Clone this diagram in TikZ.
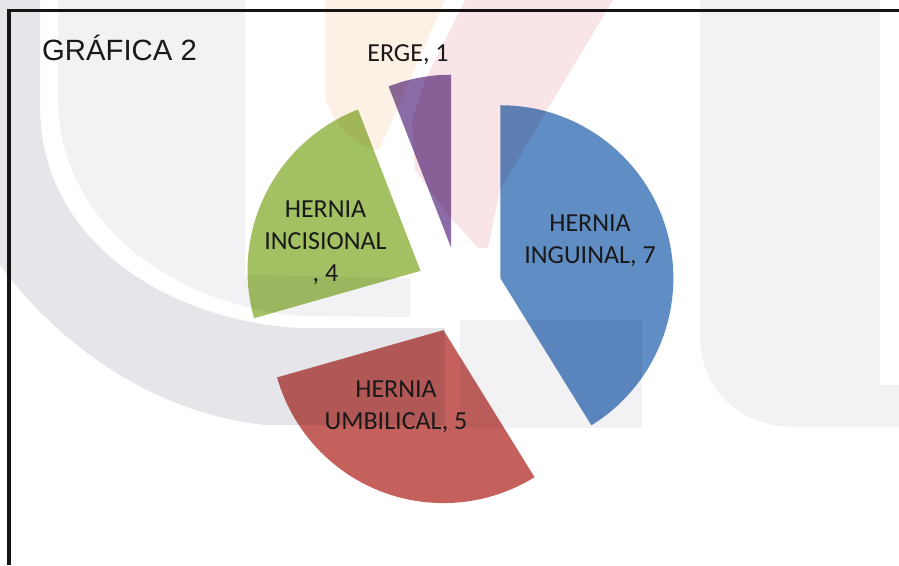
\documentclass[tikz,border=0pt]{standalone}
\usepackage{fontspec}
\setmainfont{Carlito}
\newfontfamily\arialfont{Liberation Sans}
\usepackage{tikz}
\usepackage{xcolor}
\usetikzlibrary{calc}
\definecolor{inguinal}{RGB}{95,141,196}
\definecolor{umbilical}{RGB}{197,97,93}
\definecolor{incisional}{RGB}{163,192,99}
\definecolor{erge}{RGB}{139,108,167}
\definecolor{marcagris}{RGB}{230,229,234}
\definecolor{marcaclara}{RGB}{242,242,245}
\definecolor{marcadurazno}{RGB}{253,241,230}
\definecolor{marcarosa}{RGB}{249,229,231}
\tikzset{etiqueta/.style={font=\fontsize{26}{32}\selectfont,align=center,inner sep=0pt,text=black!90}}

\begin{document}
\begin{tikzpicture}[x=1pt,y=-1pt]
        \useasboundingbox (0,0) rectangle (899,565);
        \coordinate (C) at (459,290);
        % rebanadas: 7, 5, 4, 1 de 17, en el sentido del reloj desde arriba
        \foreach \a/\b/\col in {-90/58.24/inguinal,58.24/164.12/umbilical,164.12/248.82/incisional,248.82/270/erge}{
        \pgfmathsetmacro\m{(\a+\b)/2}
        \fill[color=\col]($(C)+(\m:43)$)--++(\a:173)arc[start angle=\a,end angle=\b,radius=173]--cycle;
        }
        % marca de agua
        \begin{scope}[blend mode=multiply]
        \fill[marcagris](0,0)--(0,265)..controls(40,320)and(130,410)..(265,425)--(445,425)--(445,328)--(300,328)..controls(180,322)and(40,250)..(40,105)--(40,0)--cycle;
        \fill[marcaclara](58,0)--(58,100)..controls(60,230)and(180,305)..(300,316)--(410,317)--(410,278)--(245,275)--(245,0)--cycle;
        \fill[marcadurazno](325,0)--(445,0)--(379,150)..controls(358,150)and(330,122)..(325,95)--cycle;
        \fill[marcarosa](465,0)--(425,80)--(412,120)--(415,170)--(450,217)--(478,248)--(488,248)--(500,190)--(547,110)--(613,0)--cycle;
        \fill[marcaclara](700,0)--(700,335)..controls(700,390)and(740,427)..(795,427)--(899,427)--(899,385)--(880,385)--(880,0)--cycle;
        \fill[marcaclara](460,320)rectangle(642,428);
        \end{scope}
        \node[etiqueta](inguinal) at (590,240.5){HERNIA\\INGUINAL, 7};
        \node[etiqueta](umbilical) at (396,406.5){HERNIA\\UMBILICAL, 5};
        \node[etiqueta](incisional) at (325.5,243){HERNIA\\INCISIONAL\\, 4};
        \node[etiqueta,anchor=base](erge) at (408,61){ERGE, 1};
        \node[font=\arialfont\fontsize{29.3}{35}\selectfont,anchor=base west,inner sep=0pt,text=black!90](titulo) at (42,60){GRÁFICA 2};
        \draw[line width=3.5pt,color=black!92](9,565)--(9,10.5)--(899,10.5);
    \end{tikzpicture}
\end{document}
